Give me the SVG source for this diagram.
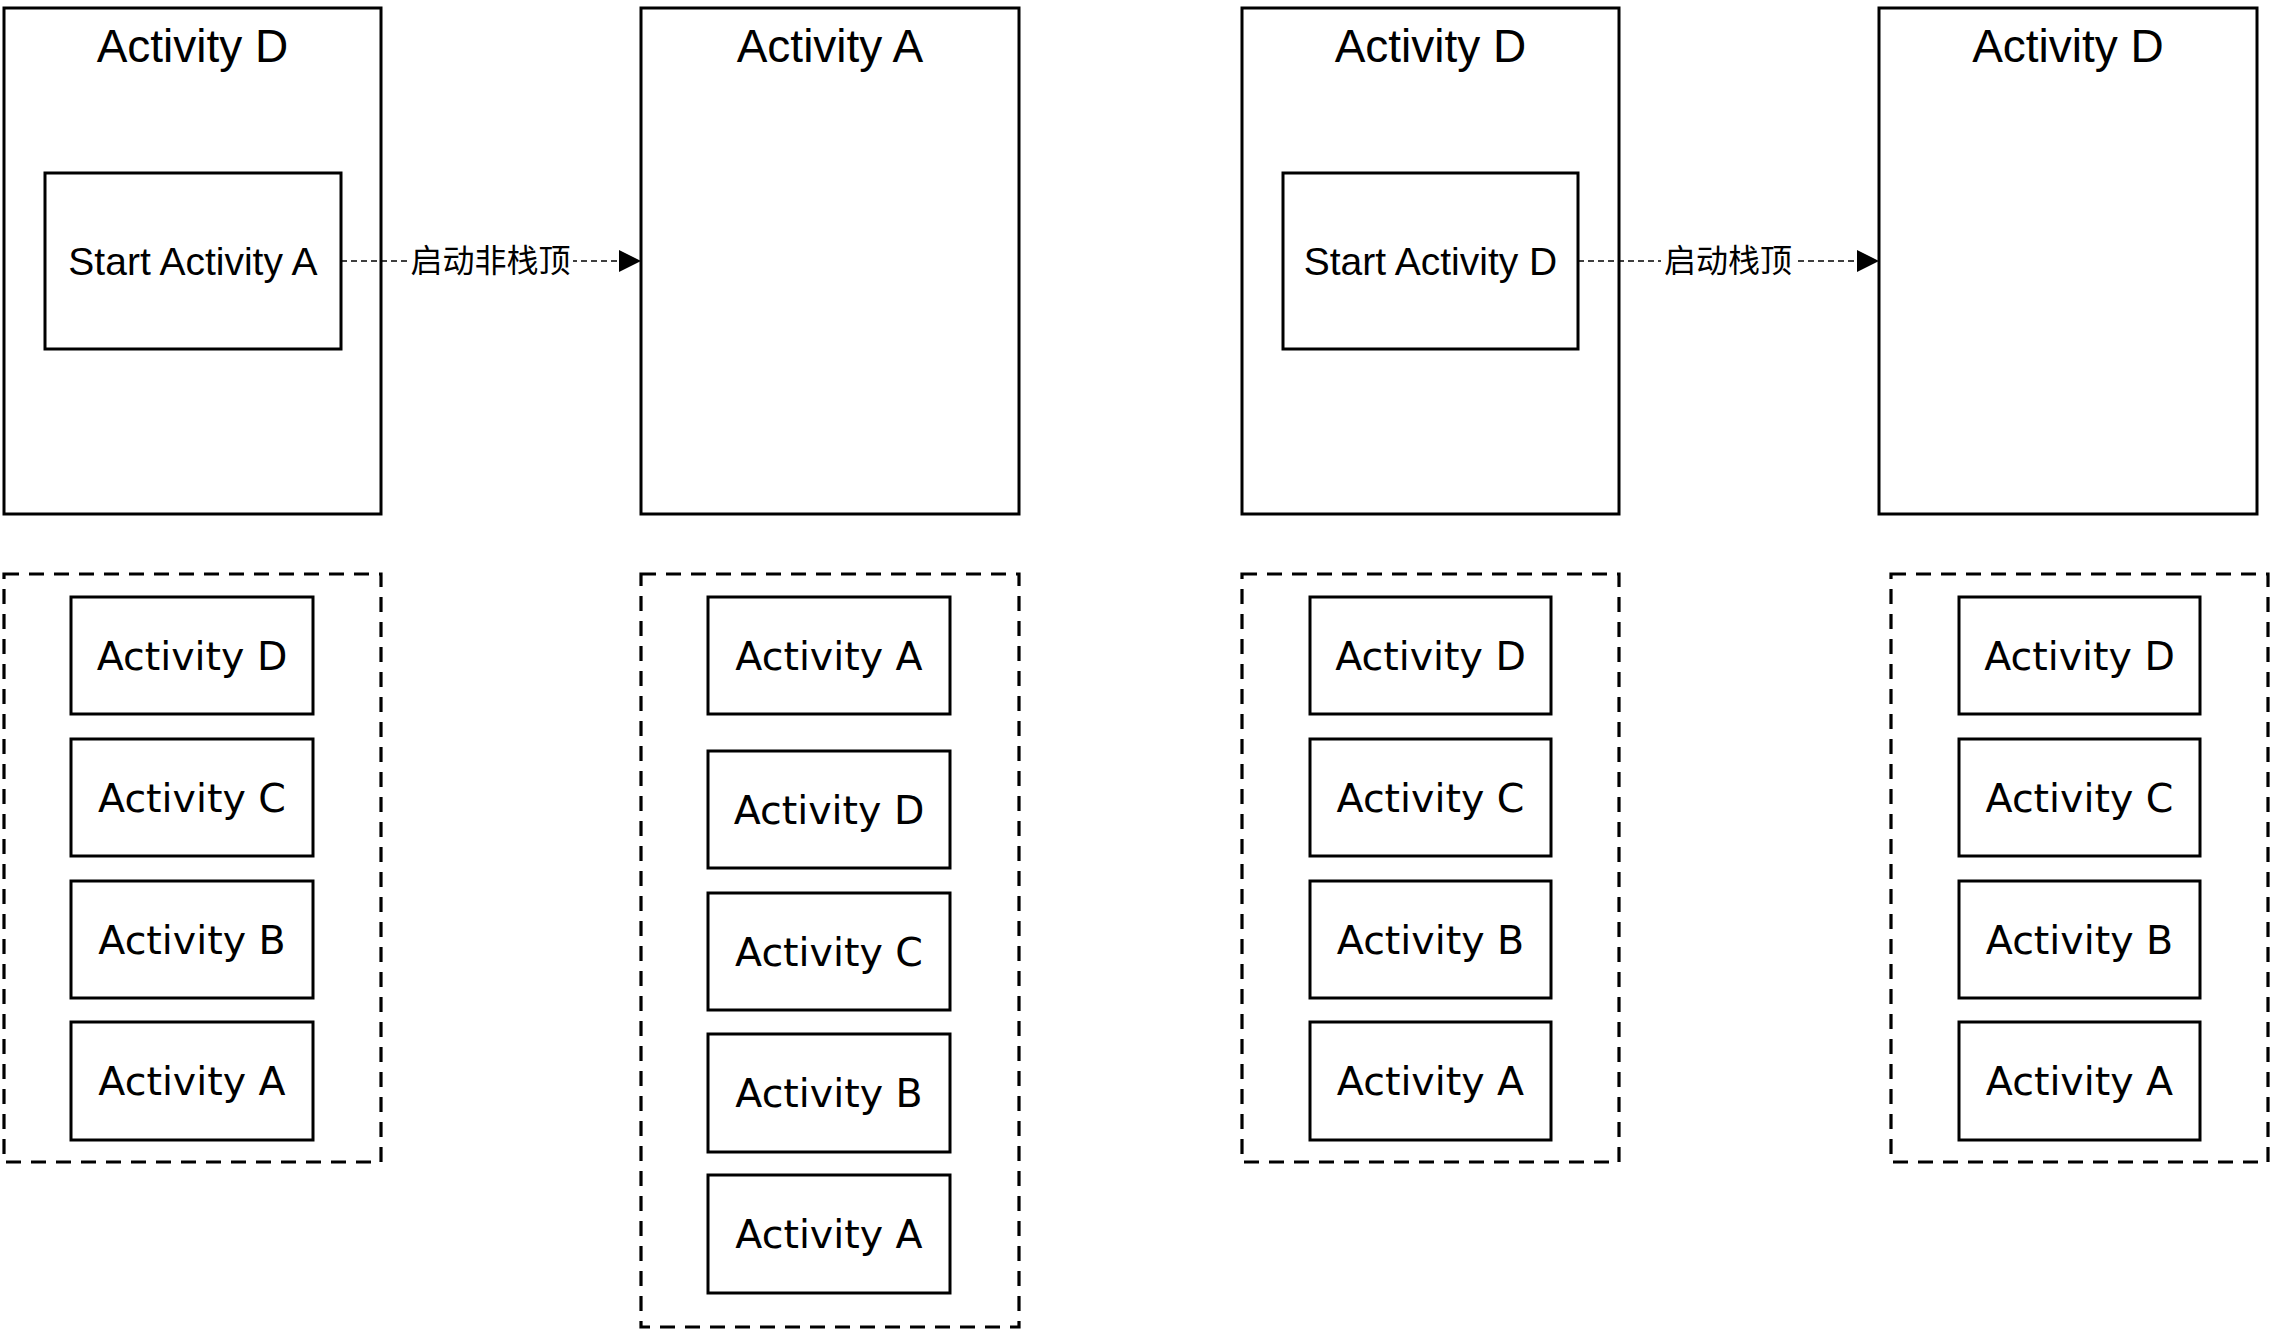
<svg xmlns="http://www.w3.org/2000/svg" width="2272" height="1331" viewBox="0 0 2272 1331">
<defs>
<style>
.big{fill:#fff;stroke:#000;stroke-width:3}
.inner{fill:#fff;stroke:#000;stroke-width:3}
.stack{fill:none;stroke:#000;stroke-width:3.2;stroke-dasharray:15 10}
.item{fill:#fff;stroke:#000;stroke-width:3}
.title{font-family:"Liberation Sans",Arial,sans-serif;font-size:46px;text-anchor:middle;fill:#000}
.start{font-family:"Liberation Sans",Arial,sans-serif;font-size:39px;text-anchor:middle;fill:#000}
.itxt{font-family:"DejaVu Sans",Verdana,sans-serif;font-size:39.5px;text-anchor:middle;fill:#000}
.lbl{font-family:"Noto Sans CJK SC","Noto Sans",sans-serif;font-size:32px;text-anchor:middle;fill:#000}
.conn{fill:none;stroke:#000;stroke-width:1.5;stroke-dasharray:6 4}
</style>
<marker id="arr" markerWidth="22" markerHeight="22" refX="22" refY="11" orient="auto" markerUnits="userSpaceOnUse">
<path d="M0,0 L22,11 L0,22 Z" fill="#000"/>
</marker>
</defs>
<rect width="2272" height="1331" fill="#fff"/>

<g id="screen1">
<rect class="big" x="4" y="8" width="377" height="506"/>
<text class="title" x="192.5" y="62">Activity D</text>
</g>
<g id="start1">
<rect class="inner" x="45" y="173" width="296" height="176"/>
<text class="start" x="193" y="275">Start Activity A</text>
</g>
<g id="screen2">
<rect class="big" x="641" y="8" width="378" height="506"/>
<text class="title" x="830" y="62">Activity A</text>
</g>
<g id="screen3">
<rect class="big" x="1242" y="8" width="377" height="506"/>
<text class="title" x="1430.5" y="62">Activity D</text>
</g>
<g id="start3">
<rect class="inner" x="1283" y="173" width="295" height="176"/>
<text class="start" x="1430.5" y="275">Start Activity D</text>
</g>
<g id="screen4">
<rect class="big" x="1879" y="8" width="378" height="506"/>
<text class="title" x="2068" y="62">Activity D</text>
</g>

<g id="stack1">
<rect class="stack" x="4" y="574" width="377" height="588"/>
<g id="s1-d"><rect class="item" x="71" y="597" width="242" height="117"/><text class="itxt" x="192" y="670">Activity D</text></g>
<g id="s1-c"><rect class="item" x="71" y="739" width="242" height="117"/><text class="itxt" x="192" y="812">Activity C</text></g>
<g id="s1-b"><rect class="item" x="71" y="881" width="242" height="117"/><text class="itxt" x="192" y="954">Activity B</text></g>
<g id="s1-a"><rect class="item" x="71" y="1022" width="242" height="118"/><text class="itxt" x="192" y="1095">Activity A</text></g>
</g>

<g id="stack2">
<rect class="stack" x="641" y="574" width="378" height="753"/>
<g id="s2-a1"><rect class="item" x="708" y="597" width="242" height="117"/><text class="itxt" x="829" y="670">Activity A</text></g>
<g id="s2-d"><rect class="item" x="708" y="751" width="242" height="117"/><text class="itxt" x="829" y="824">Activity D</text></g>
<g id="s2-c"><rect class="item" x="708" y="893" width="242" height="117"/><text class="itxt" x="829" y="966">Activity C</text></g>
<g id="s2-b"><rect class="item" x="708" y="1034" width="242" height="118"/><text class="itxt" x="829" y="1107">Activity B</text></g>
<g id="s2-a2"><rect class="item" x="708" y="1175" width="242" height="118"/><text class="itxt" x="829" y="1248">Activity A</text></g>
</g>

<g id="stack3">
<rect class="stack" x="1242" y="574" width="377" height="588"/>
<g id="s3-d"><rect class="item" x="1310" y="597" width="241" height="117"/><text class="itxt" x="1430.5" y="670">Activity D</text></g>
<g id="s3-c"><rect class="item" x="1310" y="739" width="241" height="117"/><text class="itxt" x="1430.5" y="812">Activity C</text></g>
<g id="s3-b"><rect class="item" x="1310" y="881" width="241" height="117"/><text class="itxt" x="1430.5" y="954">Activity B</text></g>
<g id="s3-a"><rect class="item" x="1310" y="1022" width="241" height="118"/><text class="itxt" x="1430.5" y="1095">Activity A</text></g>
</g>

<g id="stack4">
<rect class="stack" x="1891" y="574" width="377" height="588"/>
<g id="s4-d"><rect class="item" x="1959" y="597" width="241" height="117"/><text class="itxt" x="2079.5" y="670">Activity D</text></g>
<g id="s4-c"><rect class="item" x="1959" y="739" width="241" height="117"/><text class="itxt" x="2079.5" y="812">Activity C</text></g>
<g id="s4-b"><rect class="item" x="1959" y="881" width="241" height="117"/><text class="itxt" x="2079.5" y="954">Activity B</text></g>
<g id="s4-a"><rect class="item" x="1959" y="1022" width="241" height="118"/><text class="itxt" x="2079.5" y="1095">Activity A</text></g>
</g>

<g id="connectors">
<line class="conn" x1="341" y1="261" x2="641" y2="261" marker-end="url(#arr)"/>
<rect x="408" y="240" width="165" height="42" fill="#fff"/>
<text class="lbl" x="490.5" y="272">启动非栈顶</text>
<line class="conn" x1="1578" y1="261" x2="1879" y2="261" marker-end="url(#arr)"/>
<rect x="1661" y="240" width="134" height="42" fill="#fff"/>
<text class="lbl" x="1728" y="272">启动栈顶</text>
</g>
</svg>
